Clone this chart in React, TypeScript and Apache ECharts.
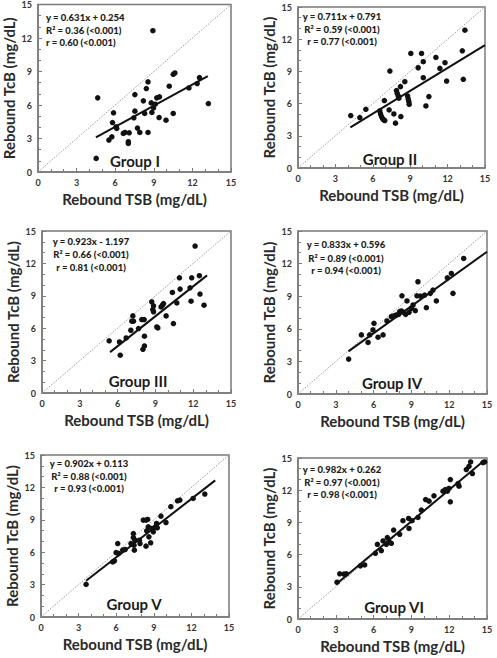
import React, { useEffect, useRef } from "react";
import * as echarts from "echarts";

// ---------- data ----------
const groups = ["Group I", "Group II", "Group III", "Group IV", "Group V", "Group VI"];
const axisTicks = [0, 3, 6, 9, 12, 15];

const tsbI = [4.64, 4.52, 8.93, 5.87, 5.79, 6.07, 6.12, 5.51, 5.74, 6.63, 6.76, 7.02, 7.02, 7.09, 7.53, 7.53, 7.45, 7.73, 7.91, 8.19, 8.29, 8.42, 8.55, 8.55, 8.8, 8.85, 8.98, 9.11, 9.23, 9.44, 9.41, 9.95, 10.2, 10.51, 10.64, 10.51, 11.73, 12.37, 12.55, 13.24];
const tcbI = [6.64, 1.22, 12.65, 5.3, 4.43, 4.05, 3.9, 2.86, 3.15, 3.45, 3.54, 2.71, 2.56, 3.51, 6.93, 5.45, 4.85, 3.93, 3.54, 6.37, 5.24, 7.47, 8.07, 3.54, 6.19, 5.33, 5.74, 6.07, 6.64, 6.73, 4.88, 4.64, 7.68, 8.75, 8.87, 5.24, 7.53, 7.92, 8.45, 6.13];

const tsbII = [4.23, 4.96, 5.44, 7.37, 6.93, 7.31, 6.56, 6.62, 6.7, 6.78, 6.88, 6.96, 7.69, 7.82, 7.9, 7.96, 8.04, 8.09, 8.22, 8.25, 8.57, 8.79, 8.84, 8.89, 8.92, 9.05, 9.64, 9.91, 10.05, 10.05, 10.26, 10.5, 11.06, 11.38, 11.79, 11.92, 13.18, 13.26, 13.39];
const tcbII = [4.89, 4.7, 5.47, 9.03, 6.28, 5.41, 5.32, 5.04, 4.79, 4.61, 4.48, 4.42, 5.04, 4.18, 7.21, 6.96, 6.71, 6.5, 7.58, 4.79, 8.04, 6.71, 6.43, 6.19, 5.94, 10.67, 9.34, 10.67, 9.9, 8.41, 5.78, 6.65, 10.3, 9.28, 9.81, 8.1, 10.92, 8.26, 12.84];

const tsbIII = [5.33, 6.15, 6.21, 6.68, 7.05, 7.13, 7.26, 7.21, 7.66, 7.92, 8.11, 8.01, 8.13, 8.13, 8.71, 8.85, 8.79, 8.85, 9.11, 9.19, 9.45, 9.56, 9.64, 9.85, 10.35, 10.43, 10.7, 10.91, 10.96, 11.75, 11.83, 11.88, 12.15, 12.49, 12.54, 12.86];
const tcbIII = [4.83, 4.73, 3.5, 5.1, 5.81, 6.65, 6.65, 7.14, 5.97, 6.8, 6.8, 4.05, 4.36, 5.26, 8.44, 8.07, 7.73, 7.52, 6.12, 6.03, 7.97, 8.13, 8.28, 7.14, 9.31, 6.43, 8.34, 10.67, 9.62, 9.74, 8.5, 10.67, 13.61, 10.86, 9.16, 8.13];

const tsbIV = [4.02, 5.03, 5.56, 5.69, 5.95, 6.03, 6.35, 6.75, 7.06, 7.41, 7.59, 7.8, 7.99, 8.07, 8.2, 8.25, 8.39, 8.54, 8.65, 8.81, 8.99, 9.13, 9.31, 9.44, 9.52, 9.71, 10.05, 10.19, 10.5, 10.71, 10.98, 11.85, 12.17, 12.3, 13.15];
const tcbIV = [3.21, 5.44, 4.74, 5.44, 5.9, 6.51, 5.23, 5.44, 6.72, 7.12, 7.18, 7.27, 7.33, 7.58, 7.64, 9.04, 7.52, 7.33, 8.56, 7.52, 7.88, 8.19, 7.67, 9.04, 10.33, 9.01, 9.1, 7.94, 9.26, 9.56, 8.56, 10.69, 11.09, 9.26, 12.47];

const tsbV = [3.6, 5.72, 5.86, 5.99, 6.12, 6.18, 6.52, 6.71, 7.18, 7.32, 7.37, 7.37, 7.42, 7.5, 7.45, 7.85, 7.9, 8.16, 8.38, 8.38, 8.43, 8.51, 8.56, 8.61, 8.75, 8.83, 8.96, 9.09, 9.22, 9.28, 9.57, 9.97, 10.36, 10.89, 11.08, 12.14, 13.07];
const tcbV = [3.03, 5.1, 5.2, 5.97, 6.8, 5.88, 6.19, 6.25, 6.8, 6.71, 7.73, 7.36, 6.65, 7.11, 6.19, 7.11, 6.8, 8.97, 8.97, 6.56, 7.98, 9.03, 8.35, 7.42, 6.87, 8.2, 7.89, 8.29, 8.66, 8.26, 9.34, 8.75, 10.21, 10.76, 10.83, 10.98, 11.38];

const tsbVI = [3.1, 3.31, 3.65, 3.84, 4.95, 5.29, 6.14, 6.3, 6.61, 6.75, 7.01, 7.09, 7.22, 7.41, 7.59, 8.07, 8.33, 8.78, 8.81, 9.05, 9.52, 9.79, 10.13, 10.4, 10.79, 11.51, 11.69, 11.85, 11.98, 12.09, 12.09, 12.7, 12.78, 13.36, 13.57, 13.7, 13.84, 14.68, 14.81];
const tcbVI = [3.43, 4.21, 4.18, 4.21, 4.95, 5.04, 6.12, 6.96, 6.37, 7.27, 6.96, 7.58, 7.21, 7.05, 8.29, 7.89, 9.16, 9.37, 8.44, 9.16, 9.46, 10.15, 11.13, 10.98, 11.48, 11.91, 12.06, 11.91, 12.16, 12.99, 10.92, 12.62, 12.37, 13.92, 14.23, 14.63, 13.55, 14.57, 14.63];

const tsbSets = [tsbI, tsbII, tsbIII, tsbIV, tsbV, tsbVI];
const tcbSets = [tcbI, tcbII, tcbIII, tcbIV, tcbV, tcbVI];

const slopes = [0.631, 0.711, 0.923, 0.833, 0.902, 0.982];
const intercepts = [0.254, 0.791, -1.197, 0.596, 0.113, 0.262];
const fitStart = [4.5, 4.2, 5.4, 4.0, 3.6, 3.0];
const fitEnd = [13.2, 15, 13.1, 15, 13.9, 14.8];

const eqLabels = ["y = 0.631x + 0.254", "y = 0.711x + 0.791", "y = 0.923x - 1.197", "y = 0.833x + 0.596", "y = 0.902x + 0.113", "y = 0.982x + 0.262"];
const r2Labels = ["R² = 0.36 (<0.001)", "R² = 0.59 (<0.001)", "R² = 0.66 (<0.001)", "R² = 0.89 (<0.001)", "R² = 0.88 (<0.001)", "R² = 0.97 (<0.001)"];
const rLabels = ["r = 0.60 (<0.001)", "r = 0.77 (<0.001)", "r = 0.81 (<0.001)", "r = 0.94 (<0.001)", "r = 0.93 (<0.001)", "r = 0.98 (<0.001)"];

const xTitle = "Rebound TSB (mg/dL)";
const yTitle = "Rebound TcB (mg/dL)";

// ---------- layout ----------
const panels = [
  { left: 35, top: 4, width: 196, height: 168, eqX: 46, eqY: [17, 30, 42], eqAlign: "left", grpX: 135, grpY: 161 },
  { left: 298, top: 7, width: 187, height: 161, eqX: 342, eqY: [16, 29, 41], eqAlign: "center", grpX: 390, grpY: 159 },
  { left: 42, top: 231, width: 189, height: 162, eqX: 91, eqY: [241, 254, 267], eqAlign: "center", grpX: 138, grpY: 381 },
  { left: 298, top: 231, width: 189, height: 163, eqX: 346, eqY: [244, 258, 270], eqAlign: "center", grpX: 392, grpY: 383 },
  { left: 41, top: 455, width: 188, height: 162, eqX: 89, eqY: [463, 476, 488], eqAlign: "center", grpX: 134, grpY: 604 },
  { left: 298, top: 458, width: 189, height: 161, eqX: 342, eqY: [469, 482, 494], eqAlign: "center", grpX: 394, grpY: 607 },
];

const FONT = "Lato, 'Open Sans', sans-serif";
const AXIS_COLOR = "#7a7a7a";

export default function App() {
  const ref = useRef<HTMLDivElement>(null);

  useEffect(() => {
    if (!ref.current) return;
    const chart = echarts.init(ref.current, undefined, { renderer: "svg" });

    const grid: any[] = [];
    const xAxis: any[] = [];
    const yAxis: any[] = [];
    const series: any[] = [];
    const graphic: any[] = [];

    panels.forEach((p, i) => {
      grid.push({
        left: p.left,
        top: p.top,
        width: p.width,
        height: p.height,
        show: true,
        borderColor: AXIS_COLOR,
        borderWidth: 1.5,
        backgroundColor: "transparent",
      });
      const common = {
        gridIndex: i,
        type: "value",
        min: axisTicks[0],
        max: axisTicks[axisTicks.length - 1],
        interval: axisTicks[1] - axisTicks[0],
        nameLocation: "middle",
        nameTextStyle: { fontFamily: FONT, fontWeight: "bold", fontSize: 15, color: "#2a2a2a" },
        axisLine: { show: true, onZero: false, lineStyle: { color: AXIS_COLOR, width: 1.5 } },
        axisTick: { show: true, inside: true, length: 4, lineStyle: { color: AXIS_COLOR } },
        minorTick: { show: true, splitNumber: 3, length: 3, lineStyle: { color: AXIS_COLOR } },
        splitLine: { show: false },
        axisLabel: { fontFamily: FONT, fontWeight: "bold", fontSize: 9, color: "#333", margin: 6 },
      };
      xAxis.push({ ...common, name: xTitle, nameGap: 19 });
      yAxis.push({ ...common, name: yTitle, nameGap: 22 });

      // identity line
      series.push({
        type: "line",
        xAxisIndex: i,
        yAxisIndex: i,
        data: [[axisTicks[0], axisTicks[0]], [axisTicks[axisTicks.length - 1], axisTicks[axisTicks.length - 1]]],
        symbol: "none",
        lineStyle: { color: "#9a9a9a", width: 1, type: [1.5, 1.5] },
        silent: true,
        z: 1,
      });
      // regression line
      series.push({
        type: "line",
        xAxisIndex: i,
        yAxisIndex: i,
        data: [
          [fitStart[i], slopes[i] * fitStart[i] + intercepts[i]],
          [fitEnd[i], slopes[i] * fitEnd[i] + intercepts[i]],
        ],
        symbol: "none",
        lineStyle: { color: "#111", width: 2 },
        silent: true,
        z: 2,
      });
      // scatter
      series.push({
        type: "scatter",
        xAxisIndex: i,
        yAxisIndex: i,
        data: tsbSets[i].map((x, k) => [x, tcbSets[i][k]]),
        symbolSize: 5.5,
        itemStyle: { color: "#111", opacity: 1 },
        z: 3,
      });

      [eqLabels[i], r2Labels[i], rLabels[i]].forEach((t, j) => {
        graphic.push({
          type: "text",
          x: p.eqX,
          y: p.eqY[j],
          style: {
            text: t,
            font: `900 9.5px ${FONT}`,
            fill: "#1a1a1a",
            textAlign: p.eqAlign,
            textVerticalAlign: "middle",
          },
          z: 10,
        });
      });
      graphic.push({
        type: "text",
        x: p.grpX,
        y: p.grpY,
        style: {
          text: groups[i],
          font: `bold 15px ${FONT}`,
          fill: "#1a1a1a",
          textAlign: "center",
          textVerticalAlign: "middle",
        },
        z: 10,
      });
    });

    chart.setOption({
      animation: false,
      backgroundColor: "#fff",
      grid,
      xAxis,
      yAxis,
      series,
      graphic,
    });

    return () => chart.dispose();
  }, []);

  return (
    <div
      ref={ref}
      style={{ position: "fixed", left: 0, top: 0, width: 497, height: 658 }}
    />
  );
}
